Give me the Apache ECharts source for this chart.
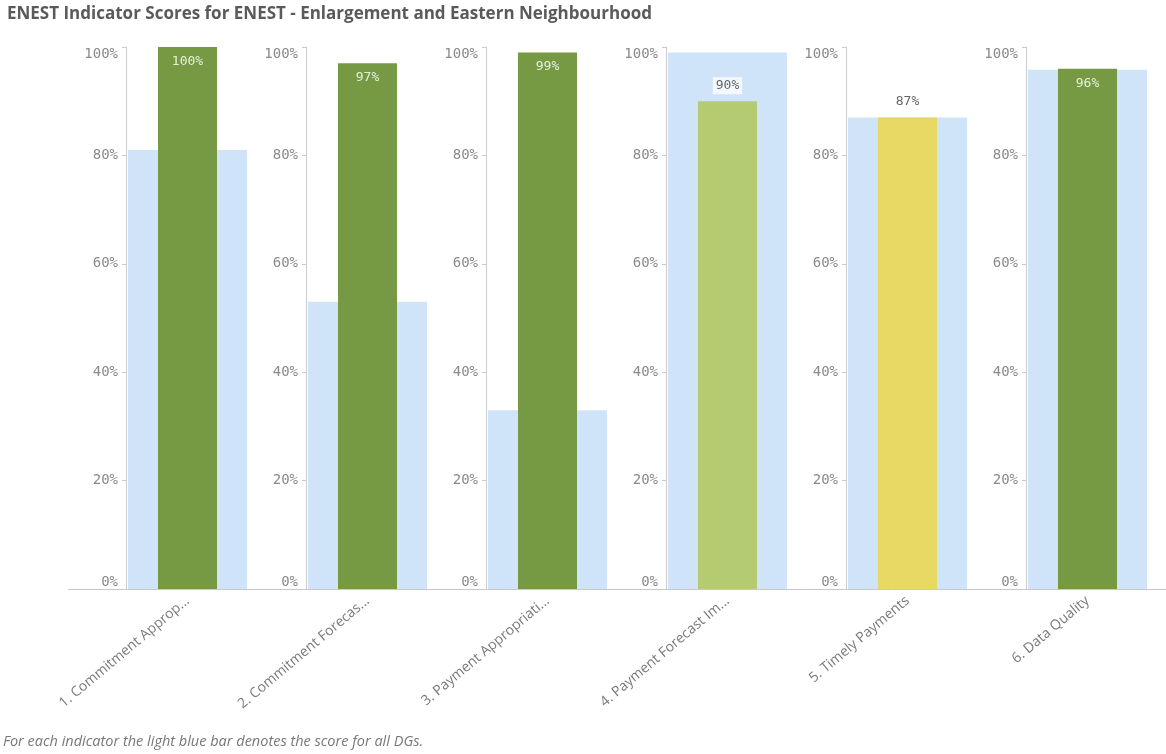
<!DOCTYPE html>
<html>
<head>
<meta charset="utf-8">
<script src="https://cdn.jsdelivr.net/npm/echarts@6/dist/echarts.min.js"></script>
<style>
html,body{margin:0;padding:0;background:#fff;}
#chart{width:1166px;height:754px;}
</style>
</head>
<body>
<div id="chart"></div>
<script>
const titleText = 'ENEST Indicator Scores for ENEST - Enlargement and Eastern Neighbourhood';
const footnote = 'For each indicator the light blue bar denotes the score for all DGs.';
const categories = ['1. Commitment Approp...', '2. Commitment Forecas...', '3. Payment Appropriati...', '4. Payment Forecast Im...', '5. Timely Payments', '6. Data Quality'];
const enestScores = [100, 97, 99, 90, 87, 96];
const allDgScores = [81, 53, 33, 99, 87, 95.8];
const scoreColors = ['#769a43', '#769a43', '#769a43', '#b5cb72', '#e8d964', '#769a43'];
const labelInside = [true, true, true, false, false, true];
const yTicks = [0, 20, 40, 60, 80, 100];

const chart = echarts.init(document.getElementById('chart'));
const grids = [], xAxes = [], yAxes = [], series = [];
const panelStart = 126, panelStep = 180, gridW = 123, gridTop = 47, gridH = 542;
const monoFont = 'DejaVu Sans Mono';

categories.forEach((cat, i) => {
  grids.push({left: panelStart + panelStep * i, top: gridTop, width: gridW, height: gridH, containLabel: false});
  xAxes.push({
    type: 'category', gridIndex: i, data: [cat],
    axisLine: {show: false}, axisTick: {show: false},
    axisLabel: {rotate: 40, margin: 10, color: '#7a7a7a', fontSize: 14, fontFamily: 'Open Sans', interval: 0}
  });
  xAxes.push({
    type: 'category', gridIndex: i, data: [cat], show: false
  });
  yAxes.push({
    type: 'value', gridIndex: i, min: yTicks[0], max: yTicks[yTicks.length - 1], interval: 20,
    axisLine: {show: true, lineStyle: {color: '#cccccc', width: 1}},
    axisTick: {show: true, length: 4, lineStyle: {color: '#cccccc'}},
    splitLine: {show: false},
    axisLabel: {
      formatter: '{value}%', color: '#8a8a8a', fontSize: 14, fontFamily: monoFont, margin: 8,
      verticalAlignMinLabel: 'bottom', verticalAlignMaxLabel: 'top'
    }
  });
  series.push({
    type: 'bar', xAxisIndex: 2 * i + 1, yAxisIndex: i, data: [allDgScores[i]],
    barWidth: 119, itemStyle: {color: '#cfe4f8'}, silent: true, z: 1
  });
  const inside = labelInside[i];
  series.push({
    type: 'bar', xAxisIndex: 2 * i, yAxisIndex: i, data: [enestScores[i]],
    barWidth: 59, itemStyle: {color: scoreColors[i]}, z: 2,
    label: {
      show: true,
      position: inside ? 'insideTop' : 'top',
      distance: inside ? 8 : 7,
      formatter: '{c}%',
      fontFamily: monoFont, fontSize: 13,
      color: inside ? '#e8eedd' : '#666666',
      backgroundColor: inside ? 'transparent' : 'rgba(255,255,255,0.75)',
      padding: inside ? 0 : [2, 3]
    }
  });
});

chart.setOption({
  animation: false,
  title: {
    text: titleText, left: 2, top: 1,
    textStyle: {fontSize: 17, fontWeight: 'bold', color: '#5a5a5a', fontFamily: 'Open Sans'}
  },
  grid: grids, xAxis: xAxes, yAxis: yAxes, series: series,
  graphic: [
    {type: 'line', shape: {x1: 68, y1: 589.5, x2: 1166, y2: 589.5}, style: {stroke: '#c8c8c8', lineWidth: 1}, z: 10},
    {type: 'text', left: 3, top: 734, style: {text: footnote, fill: '#777777', font: 'italic 14.5px "Open Sans"'}}
  ]
});
</script>
</body>
</html>
